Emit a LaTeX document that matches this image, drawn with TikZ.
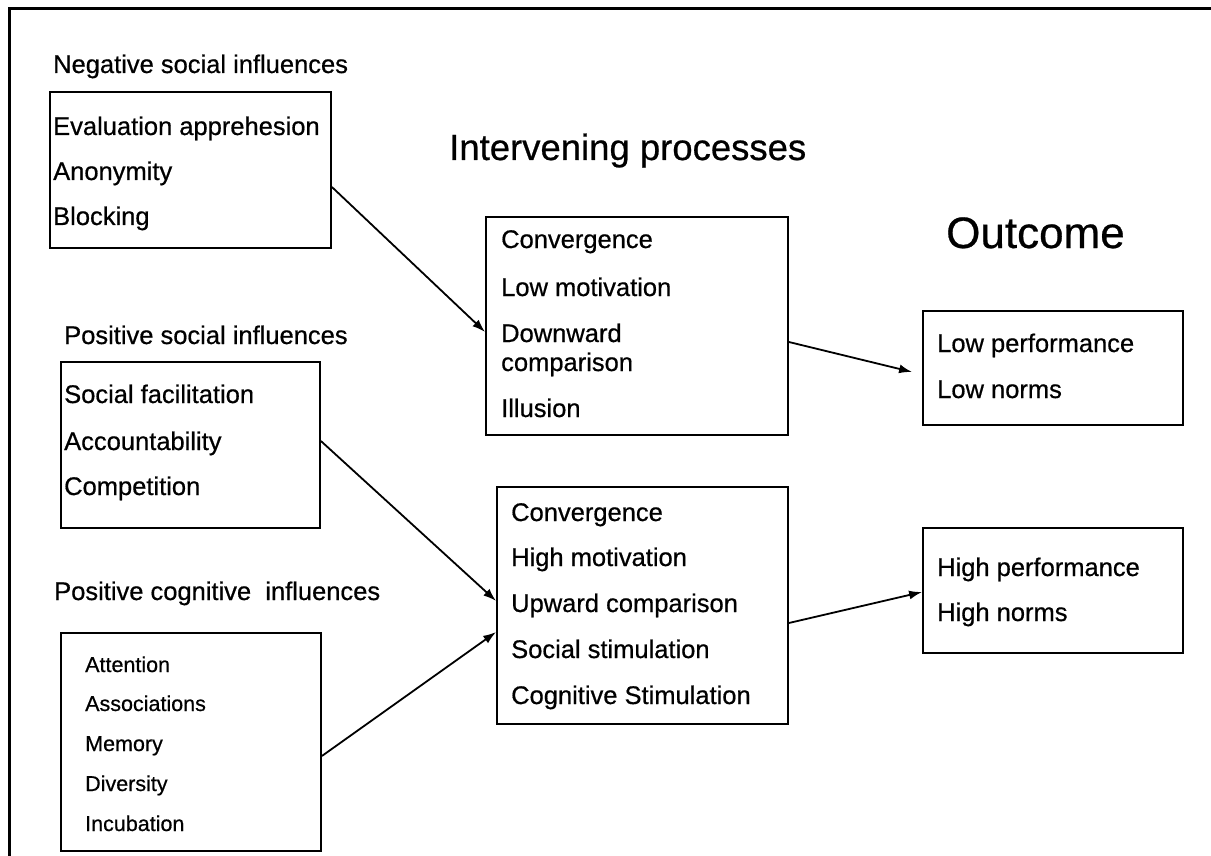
\documentclass[tikz,border=0pt]{standalone}
\usepackage{fontspec}
\setmainfont{Liberation Sans}[FakeBold=0.6]
\usetikzlibrary{arrows.meta}

\begin{document}
\begin{tikzpicture}[x=1pt,y=-1pt,
  box/.style={draw,line width=1.8pt,inner sep=0pt,anchor=center},
  item/.style={anchor=base west,inner sep=0pt,font=\fontsize{25.5pt}{30pt}\selectfont},
  smallitem/.style={anchor=base west,inner sep=0pt,font=\fontsize{21.5pt}{26pt}\selectfont},
  heading/.style={anchor=base west,inner sep=0pt,font=\fontsize{36.5pt}{42pt}\selectfont},
  bigheading/.style={anchor=base west,inner sep=0pt,font=\fontsize{44pt}{50pt}\selectfont},
  link/.style={line width=1.8pt,-{Latex[length=13pt,width=9pt]}}]

\clip (0,0) rectangle (1211,856);
\fill[white] (0,0) rectangle (1211,856);

% outer frame (runs off the page on the right and at the bottom)
\draw[line width=3pt] (9,880) -- (9,9) -- (1230,9);

% boxes
\node[box,minimum width=281pt,minimum height=156pt] (nsi)  at (190.5,170) {};
\node[box,minimum width=259pt,minimum height=166pt] (psi)  at (190.5,445) {};
\node[box,minimum width=260pt,minimum height=218pt] (pci)  at (191,742) {};
\node[box,minimum width=302pt,minimum height=218pt] (mtop) at (637,326) {};
\node[box,minimum width=291pt,minimum height=237pt] (mbot) at (642.5,605.5) {};
\node[box,minimum width=260pt,minimum height=114pt] (otop) at (1053,368) {};
\node[box,minimum width=260pt,minimum height=125pt] (obot) at (1053,590.5) {};

% headings
\node[item] (tnsi) at (53,73) {Negative social influences};
\node[item] (tpsi) at (64,344) {Positive social influences};
\node[item] (tpci) at (54,600) {Positive cognitive~ influences};
\node[heading] (tint) at (449,160) {Intervening processes};
\node[bigheading] (tout) at (946,248) {Outcome};

% negative social influences
\node[item] (n1) at (53,135) {Evaluation apprehesion};
\node[item] (n2) at (53,180) {Anonymity};
\node[item] (n3) at (53,225) {Blocking};

% positive social influences
\node[item] (p1) at (64,403) {Social facilitation};
\node[item] (p2) at (64,450) {Accountability};
\node[item] (p3) at (64,495) {Competition};

% positive cognitive influences
\node[smallitem] (c1) at (85,672) {Attention};
\node[smallitem] (c2) at (85,711) {Associations};
\node[smallitem] (c3) at (85,751) {Memory};
\node[smallitem] (c4) at (85,791) {Diversity};
\node[smallitem] (c5) at (85,831) {Incubation};

% intervening processes, negative path
\node[item] (m1) at (501,248) {Convergence};
\node[item] (m2) at (501,296) {Low motivation};
\node[item] (m3) at (501,342) {Downward};
\node[item] (m4) at (501,371) {comparison};
\node[item] (m5) at (501,417) {Illusion};

% intervening processes, positive path
\node[item] (h1) at (511,521) {Convergence};
\node[item] (h2) at (511,566) {High motivation};
\node[item] (h3) at (511,612) {Upward comparison};
\node[item] (h4) at (511,658) {Social stimulation};
\node[item] (h5) at (511,704) {Cognitive Stimulation};

% outcomes
\node[item] (o1) at (937,352) {Low performance};
\node[item] (o2) at (937,398) {Low norms};
\node[item] (o3) at (937,576) {High performance};
\node[item] (o4) at (937,621) {High norms};

% connectors
\draw[link] ([yshift=-17pt]nsi.east) -- ([yshift=-6pt]mtop.west);
\draw[link] ([yshift=4pt]psi.east) -- ([yshift=4.5pt]mbot.west);
\draw[link] ([yshift=-14pt]pci.east) -- ([yshift=-26.5pt]mbot.west);
\draw[link] ([yshift=-16pt]mtop.east) -- ([xshift=-10pt,yshift=-4pt]otop.west);
\draw[link] ([yshift=-17.5pt]mbot.east) -- ([yshift=-1.5pt]obot.west);
\end{tikzpicture}
\end{document}
